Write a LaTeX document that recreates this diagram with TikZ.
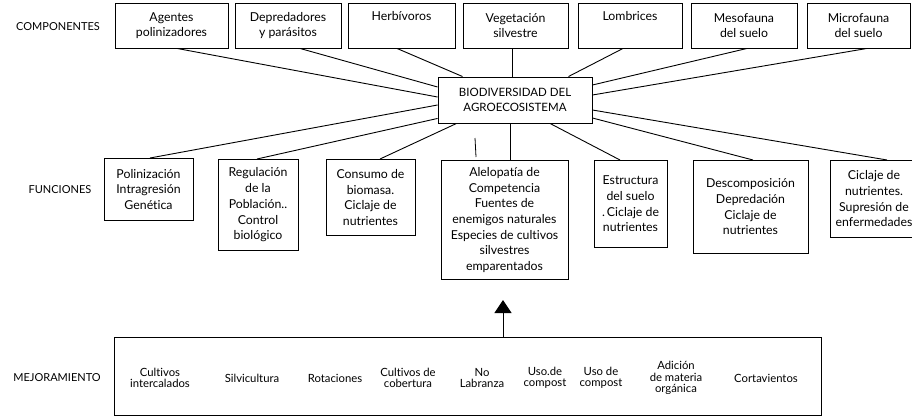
\documentclass[tikz,border=0pt]{standalone}
\usepackage{fontspec}
\setmainfont{Lato}[Ligatures={NoCommon}]
\usetikzlibrary{arrows.meta}
\tikzset{
  box/.style={draw, line width=0.9pt, align=center, inner sep=1pt, font=\fontsize{12.3}{15}\selectfont},
  fbox/.style={box, font=\fontsize{12.3}{15.7}\selectfont, anchor=north},
  cbox/.style={box, font=\fontsize{11.5}{15}\selectfont},
  lbl/.style={font=\fontsize{11}{12}\selectfont},
  item/.style={align=center, font=\fontsize{11.3}{11.5}\selectfont},
  conn/.style={line width=0.9pt},
}
\begin{document}
\begin{tikzpicture}[x=1pt,y=-1pt]
\useasboundingbox (0,0) rectangle (912,417);
\begin{scope}
\clip (0,0) rectangle (912,417);
% labels
\node[lbl] (lc) at (58,27) {COMPONENTES};
\node[lbl] (lf) at (60,190) {FUNCIONES};
\node[lbl] (lm) at (57,378) {MEJORAMIENTO};
% top boxes
\node[box, minimum width=113, minimum height=45] (t1) at (171.5,25.5) {Agentes\\polinizadores};
\node[box, minimum width=106, minimum height=45] (t2) at (288,25.5) {Depredadores\\y parásitos};
\node[box, minimum width=107, minimum height=45] (t3) at (401.5,25.5) {Herbívoros\\\strut};
\node[box, minimum width=105, minimum height=45] (t4) at (515.5,25.5) {Vegetación\\silvestre};
\node[box, minimum width=104, minimum height=45] (t5) at (630,25.5) {Lombrices\\\strut};
\node[box, minimum width=106, minimum height=45] (t6) at (744,25.5) {Mesofauna\\del suelo};
\node[box, minimum width=103, minimum height=45] (t7) at (858.5,25.5) {Microfauna\\del suelo};
% center
\node[cbox, minimum width=154, minimum height=46] (c) at (515,100) {BIODIVERSIDAD DEL\\AGROECOSISTEMA};
% function boxes
\node[fbox, minimum width=89, minimum height=62] (f1) at (148.5,158) {Polinización\\Intragresión\\Genética};
\node[fbox, minimum width=80, minimum height=91] (f2) at (258,159) {Regulación\\de la\\Población..\\Control\\biológico};
\node[fbox, minimum width=89, minimum height=76] (f3) at (370.5,159) {Consumo de\\biomasa.\\Ciclaje de\\nutrientes};
\node[fbox, minimum width=127, minimum height=119] (f4) at (504.5,160) {Alelopatía de\\Competencia\\Fuentes de\\enemigos naturales\\Especies de cultivos\\silvestres\\emparentados};
\node[fbox, minimum width=73, minimum height=87] (f5) at (630.5,160) {Estructura\\del suelo\\.\,Ciclaje de\\nutrientes};
\node[fbox, minimum width=115, minimum height=93] (f6) at (750.5,160) {Descomposición\\Depredación\\Ciclaje de\\nutrientes};
\node[fbox, minimum width=88, minimum height=77] (f7) at (874,160) {Ciclaje de\\nutrientes.\\Supresión de\\enfermedades};
% bottom box
\node[box, minimum width=707, minimum height=78] (b) at (467.5,376) {};
\node[item] (m1) at (160,378) {Cultivos\\intercalados};
\node[item] (m2) at (252,378) {Silvicultura};
\node[item] (m3) at (335,378) {Rotaciones};
\node[item] (m4) at (408,378) {Cultivos de\\cobertura};
\node[item] (m5) at (482,378) {No\\Labranza};
\node[item] (m6) at (545,378) {Uso.de\\compost};
\node[item] (m7) at (601,378) {Uso de\\compost};
\node[item] (m8) at (676,378) {Adición\\de materia\\orgánica};
\node[item] (m9) at (766,378) {Cortavientos};
% connectors top
\draw[conn] ([xshift=5.5pt]t1.south) -- ([yshift=3pt]c.west);
\draw[conn] ([xshift=12pt]t2.south) -- ([yshift=13pt]c.west);
\draw[conn] ([xshift=-4.5pt]t3.south) -- ([xshift=25pt]c.north west);
\draw[conn] ([xshift=-3pt]c.north) -- ([xshift=-3pt]c.north |- t4.south);
\draw[conn] ([xshift=-7pt]t5.south) -- ([xshift=-24pt]c.north east);
\draw[conn] ([xshift=3pt]t6.south) -- ([yshift=15pt]c.east);
\draw[conn] ([xshift=8.5pt]t7.south) -- ([yshift=5pt]c.east);
% connectors bottom
\draw[conn] ([xshift=1.5pt]f1.north) -- ([yshift=-5pt]c.west);
\draw[conn] ([xshift=-1pt]f2.north) -- ([yshift=5pt]c.south west);
\draw[conn] ([xshift=9.5pt]f3.north) -- ([xshift=19pt]c.south west);
\draw[conn] ([xshift=5.5pt]f4.north) -- ([xshift=5.5pt]f4.north |- c.south);
\draw[conn] ([xshift=-10.5pt]f5.north) -- ([xshift=35pt]c.south);
\draw[conn] ([xshift=2.5pt]f6.north) -- ([yshift=-18pt]c.east);
\draw[conn] ([xshift=13pt]f7.north) -- ([yshift=-10pt]c.east);
% small mark
\coordinate (k1) at (475,138);
\coordinate (k2) at (476,157);
\draw[line width=0.8pt] (k1) -- (k2);
% arrow
\coordinate (ah) at (503,300);
\draw[conn, -{Triangle[length=13pt,width=17pt]}] (b.north -| ah) -- (ah);
\end{scope}
\end{tikzpicture}
\end{document}
